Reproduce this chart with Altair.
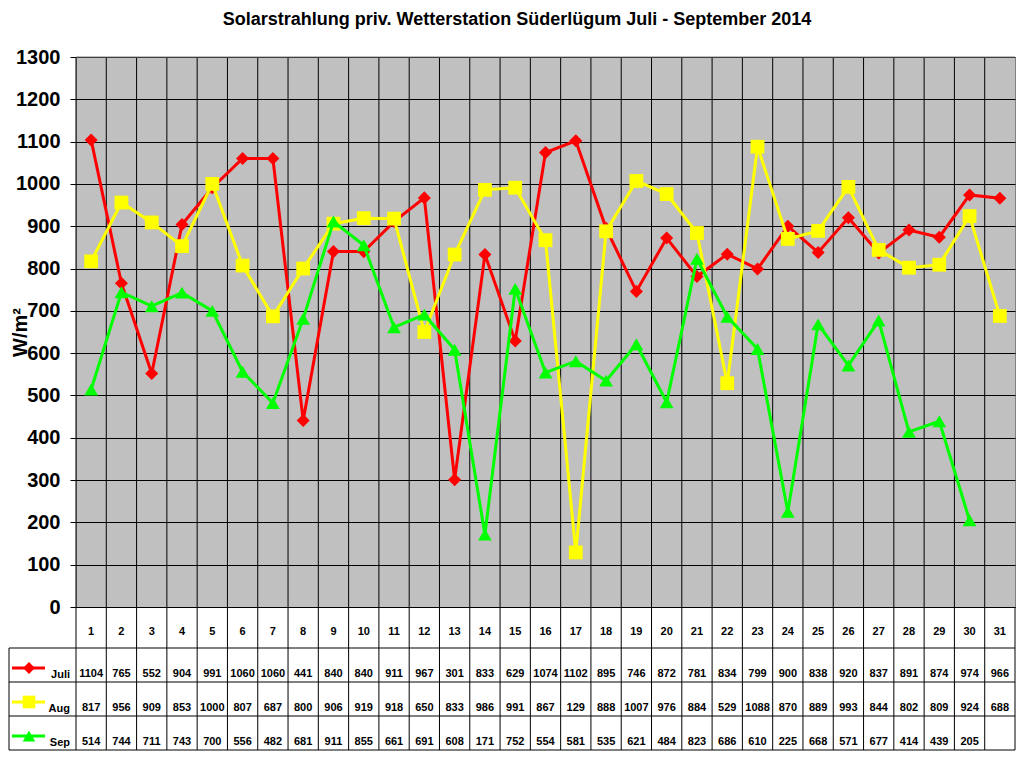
import altair as alt
import pandas as pd

days = list(range(1, 32))
juli = [1104, 765, 552, 904, 991, 1060, 1060, 441, 840, 840, 911, 967, 301, 833, 629, 1074,
        1102, 895, 746, 872, 781, 834, 799, 900, 838, 920, 837, 891, 874, 974, 966]
aug = [817, 956, 909, 853, 1000, 807, 687, 800, 906, 919, 918, 650, 833, 986, 991, 867,
       129, 888, 1007, 976, 884, 529, 1088, 870, 889, 993, 844, 802, 809, 924, 688]
sep = [514, 744, 711, 743, 700, 556, 482, 681, 911, 855, 661, 691, 608, 171, 752, 554,
       581, 535, 621, 484, 823, 686, 610, 225, 668, 571, 677, 414, 439, 205]
series_names = ["Juli", "Aug", "Sep"]
series_values = [juli, aug, sep]
colors = ["#FF0000", "#FFFF00", "#00FF00"]
shapes = ["diamond", "square", "triangle-up"]
sizes = [170, 190, 190]
title_text = "Solarstrahlung priv. Wetterstation Süderlügum Juli - September 2014"
y_title = "W/m²"
y_ticks = list(range(0, 1301, 100))

W, H = 939, 550
ROW_TOP = 591
ROW_H = 34
TABLE_BOTTOM = ROW_TOP + 3 * ROW_H
TABLE_LEFT = -67
DAY_Y = 575

FONT = "Liberation Sans, Arial, sans-serif"

rows = []
for name, vals in zip(series_names, series_values):
    for d, v in zip(days, vals):
        rows.append({"day": d, "series": name, "value": v})
df = pd.DataFrame(rows)
one = pd.DataFrame({"a": [0]})
days_df = pd.DataFrame({"day": days})
bounds_df = pd.DataFrame({"b": [d - 0.5 for d in days]})
right_df = pd.DataFrame({"b": [days[-1] + 0.5]})

xscale = alt.Scale(domain=[0.5, 31.5], nice=False, zero=False)
yscale = alt.Scale(domain=[0, 1300], nice=False, zero=True)

layers = []

# vertical grid / table column lines
layers.append(
    alt.Chart(bounds_df).mark_rule(color="black", strokeWidth=1).encode(
        x=alt.X("b:Q", scale=xscale, axis=None),
        y=alt.value(0), y2=alt.value(TABLE_BOTTOM))
)
layers.append(
    alt.Chart(right_df).mark_rule(color="black", strokeWidth=1).encode(
        x=alt.X("b:Q", scale=xscale, axis=None),
        y=alt.value(H), y2=alt.value(TABLE_BOTTOM))
)
# top gray border
layers.append(
    alt.Chart(one).mark_rule(color="#808080", strokeWidth=1).encode(
        x=alt.value(0), x2=alt.value(W), y=alt.value(0))
)
# table horizontal lines
for i in range(4):
    layers.append(
        alt.Chart(one).mark_rule(color="black", strokeWidth=1).encode(
            x=alt.value(TABLE_LEFT), x2=alt.value(W), y=alt.value(ROW_TOP + i * ROW_H))
    )
layers.append(
    alt.Chart(one).mark_rule(color="black", strokeWidth=1).encode(
        x=alt.value(TABLE_LEFT), y=alt.value(ROW_TOP), y2=alt.value(TABLE_BOTTOM))
)

# series lines and markers
for i, (name, col, shp, sz) in enumerate(zip(series_names, colors, shapes, sizes)):
    base = alt.Chart(df).transform_filter(alt.datum.series == name)
    layers.append(
        base.mark_line(color=col, strokeWidth=3).encode(
            x=alt.X("day:Q", scale=xscale, axis=None),
            y=alt.Y("value:Q", scale=yscale,
                    axis=alt.Axis(values=y_ticks, format="d", grid=True, gridColor="black",
                                  gridWidth=1, gridOpacity=1, tickColor="black", tickSize=6,
                                  domain=False, labelFont=FONT, labelFontSize=20,
                                  labelFontWeight="bold", labelColor="black", labelPadding=10,
                                  title=y_title, titleFont=FONT, titleFontSize=20,
                                  titleFontWeight="bold", titleColor="black", titleX=-56,
                                  titleY=275, titleBaseline="middle", titleAngle=270)))
    )
    layers.append(
        base.mark_point(shape=shp, filled=True, size=sz, color=col, opacity=1).encode(
            x=alt.X("day:Q", scale=xscale, axis=None),
            y=alt.Y("value:Q", scale=yscale))
    )

# day labels
layers.append(
    alt.Chart(days_df).mark_text(font=FONT, fontSize=11, fontWeight="bold", color="black",
                                 baseline="middle", align="center").encode(
        x=alt.X("day:Q", scale=xscale, axis=None),
        y=alt.value(DAY_Y), text="day:Q")
)

# table values and legend keys
for i, (name, col, shp, sz) in enumerate(zip(series_names, colors, shapes, sizes)):
    row_bottom = ROW_TOP + (i + 1) * ROW_H
    layers.append(
        alt.Chart(df).transform_filter(alt.datum.series == name).mark_text(
            font=FONT, fontSize=11, fontWeight="bold", color="black",
            baseline="middle", align="center").encode(
            x=alt.X("day:Q", scale=xscale, axis=None),
            y=alt.value(row_bottom - 8), text="value:Q")
    )
    key_y = row_bottom - 14
    layers.append(
        alt.Chart(one).mark_rule(color=col, strokeWidth=3).encode(
            x=alt.value(-64), x2=alt.value(-31), y=alt.value(key_y))
    )
    layers.append(
        alt.Chart(one).mark_point(shape=shp, filled=True, size=sz - 30, color=col, opacity=1).encode(
            x=alt.value(-47), y=alt.value(key_y))
    )
    layers.append(
        alt.Chart(pd.DataFrame({"label": [name]})).mark_text(
            font=FONT, fontSize=11, fontWeight="bold", color="black",
            baseline="middle", align="right").encode(
            x=alt.value(-6), y=alt.value(row_bottom - 7), text="label:N")
    )

# title
layers.append(
    alt.Chart(pd.DataFrame({"t": [title_text]})).mark_text(
        font=FONT, fontSize=18, fontWeight="bold", color="black",
        baseline="middle", align="center").encode(
        x=alt.value(441), y=alt.value(-37), text="t:N")
)

chart = alt.layer(*layers).properties(
    width=W, height=H,
    autosize=alt.AutoSizeParams(type="none"),
    padding={"left": 68, "top": 49, "right": 1, "bottom": 145},
    background="white",
).configure_view(fill="#C0C0C0", stroke="#808080", strokeWidth=1)

chart.save("out.html", embed_options={"renderer": "svg", "actions": False})
